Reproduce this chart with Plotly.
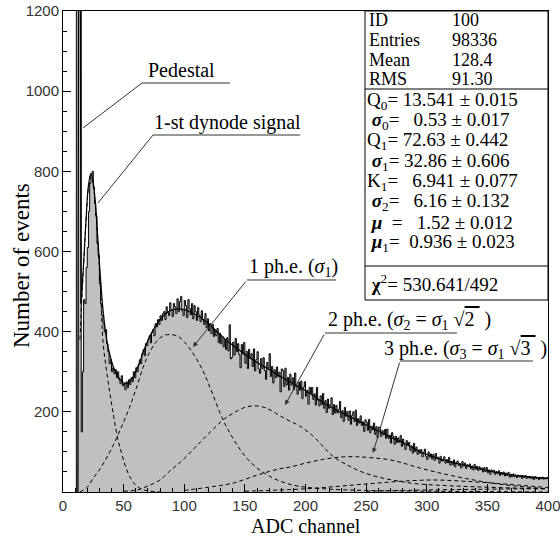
import numpy as np
import plotly.graph_objects as go

# ---------------- data ----------------
first_channel = 11
counts = [
    3000, 5000, 6000, 2500, 150, 300, 480, 470, 560, 610,
    700, 770, 790, 800, 760, 720, 690, 620, 590, 520,
    470, 440, 420, 400, 405, 370, 350, 320, 330, 300,
    310, 295, 305, 285, 300, 280, 270, 290, 265, 270,
    255, 275, 260, 280, 268, 285, 275, 300, 285, 310,
    300, 318, 330, 320, 345, 355, 340, 370, 365, 380,
    390, 372, 398, 405, 390, 420, 412, 430, 418, 440,
    428, 445, 450, 430, 462, 448, 440, 472, 455, 438,
    470, 462, 445, 482, 450, 475, 488, 452, 440, 478,
    465, 435, 480, 458, 442, 470, 432, 465, 450, 428,
    460, 442, 425, 452, 430, 418, 445, 410, 432, 402,
    420, 395, 418, 388, 404, 390, 408, 372, 396, 370,
    388, 362, 380, 356,
    385, 352, 417, 332, 336, 374, 342, 383, 350, 370,
    343, 310, 368, 344, 373, 321, 351, 308, 356, 333,
    345, 313, 357, 302, 330, 350, 307, 296, 333, 308,
    335, 303, 281, 323, 309, 345, 288, 313, 272, 305,
    285, 312, 288, 299, 250, 307, 303, 263, 309, 267,
    286, 254, 294, 267, 285, 255, 297, 263, 244, 274,
    254, 277, 233, 262, 275, 239, 254, 219, 261, 246,
    261, 231, 245, 217, 261, 229, 215, 240, 218, 246,
    209, 228, 198, 232, 209, 218, 235, 193, 218, 197,
    216, 197, 206, 226, 185, 203, 176, 211, 189, 201,
    179, 202, 169, 191, 200, 176, 204, 166, 183, 172,
    190, 166, 175, 151, 180, 174, 154, 181, 148, 164,
    155, 172, 144, 163, 136, 162, 160, 139, 153, 143,
    156, 134, 157, 134, 142, 122, 148, 139, 119, 139,
    123, 135, 124, 141, 114, 132, 118, 106, 128, 117,
    124, 104, 115, 97, 121, 101, 112, 94, 105, 97,
    106, 88, 99, 107, 89, 81, 100, 87, 95, 82,
    94, 79, 96, 83, 87, 72, 89, 77, 81, 88,
    72, 81, 73, 86, 67, 76, 68, 80, 63, 74,
    77, 66, 71, 60, 76, 65, 72, 59, 68, 64,
    70, 58, 65, 55, 69, 57, 64, 54, 63, 56,
    60, 50, 61, 51, 61, 48, 55, 44, 55, 50,
    54, 44, 51, 46, 53, 41, 49, 44, 50, 40,
    47, 41, 49, 37, 44, 38, 45, 38, 42, 36,
    42, 38, 41, 34, 41, 36, 41, 34, 38, 35,
    39, 33, 37, 31, 38, 34, 36, 31, 36, 33,
    37, 32, 35, 33, 36,
]

pedestal_fit_ch = [12.3, 13.54, 14.8]
pedestal_fit_counts = [0, 3000, 470]

fit_ch = [15, 17, 19, 21, 23, 25, 27, 29, 31, 33, 36, 39, 42, 45, 48, 51, 54, 57, 60,
          63, 66, 70, 75, 80, 85, 90, 95, 100, 105, 110, 115, 120, 125, 130, 135, 140,
          145, 150, 157, 165, 171, 180, 187, 195, 205, 215, 225, 235, 242, 250, 260,
          270, 280, 286, 294, 305, 313, 325, 341, 355, 369, 380, 396, 400]
fit_counts = [470, 570, 680, 765, 795, 770, 710, 620, 530, 455, 380, 338, 308, 290, 278,
              271, 272, 283, 300, 322, 348, 378, 408, 430, 446, 454, 457, 455, 449, 441,
              432, 420, 406, 392, 378, 366, 355, 343, 329, 314, 304, 287, 275, 262, 243,
              222, 205, 190, 180, 167, 152, 137, 124, 114, 101, 88, 80, 71, 60, 50, 43,
              39, 35, 34]

dynode_ch = [14, 15, 17, 19, 21, 23, 25, 27, 29, 31, 33, 36, 39, 42, 45, 48, 52, 56, 60, 65, 70, 80]
dynode_counts = [380, 450, 565, 675, 760, 790, 765, 700, 610, 500, 375, 300, 240, 185, 135,
                 100, 60, 33, 17, 7, 3, 0]

phe1_ch = [14, 20, 25, 30, 35, 40, 45, 50, 55, 60, 66, 70, 77, 83, 88, 95, 100, 107, 115,
           122, 132, 140, 150, 160, 170, 180, 190, 200, 220, 250, 300, 350, 400]
phe1_counts = [0, 12, 35, 55, 80, 108, 140, 175, 212, 255, 310, 340, 375, 390, 393, 388,
               375, 347, 305, 255, 180, 135, 90, 60, 40, 26, 17, 12, 7, 4, 2, 1, 0]

phe2_ch = [50, 61, 70, 80, 88, 97, 107, 115, 124, 132, 140, 149, 157, 165, 172, 179, 187,
           195, 206, 215, 223, 234, 245, 259, 275, 290, 316, 340, 371, 400]
phe2_counts = [2, 5, 15, 30, 52, 75, 105, 130, 157, 180, 196, 210, 215, 212, 203, 190, 177,
               165, 140, 112, 88, 68, 52, 38, 28, 21, 16, 13, 10, 8]

phe3_ch = [100, 120, 140, 162, 179, 187, 200, 214, 228, 242, 256, 270, 283, 294, 310, 330,
           350, 370, 400]
phe3_counts = [4, 12, 22, 44, 58, 62, 72, 81, 87, 88, 85, 80, 70, 60, 48, 35, 24, 16, 8]

phe4_ch = [150, 200, 250, 280, 305, 330, 360, 400]
phe4_counts = [2, 8, 20, 27, 30, 27, 21, 11]

phe5_ch = [250, 300, 350, 380, 400]
phe5_counts = [2, 5, 7, 8, 8]

stat_names = ["ID", "Entries", "Mean", "RMS"]
stat_values = ["100", "98336", "128.4", "91.30"]

x_ticks = [0, 50, 100, 150, 200, 250, 300, 350, 400]
y_ticks = [200, 400, 600, 800, 1000, 1200]

# ---------------- figure ----------------
counts = np.array(counts, dtype=float)
edges = first_channel + np.arange(len(counts) + 1)
hx = np.concatenate([[edges[0]], edges])
hy = np.concatenate([[0.0], counts, [counts[-1]]])

SERIF = "Liberation Serif"
fig = go.Figure()
fig.add_trace(go.Scatter(x=hx, y=hy, mode="lines", line_shape="hv",
                         line=dict(color="black", width=1), fill="tozeroy",
                         fillcolor="#c0c0c0", hoverinfo="skip"))

dash = "4px,3px"
for cxs, cys in [(dynode_ch, dynode_counts), (phe1_ch, phe1_counts), (phe2_ch, phe2_counts),
                 (phe3_ch, phe3_counts), (phe4_ch, phe4_counts), (phe5_ch, phe5_counts)]:
    fig.add_trace(go.Scatter(x=cxs, y=cys, mode="lines", line_shape="spline",
                             line=dict(color="black", width=1, dash=dash)))

fig.add_trace(go.Scatter(x=pedestal_fit_ch, y=pedestal_fit_counts, mode="lines",
                         line=dict(color="black", width=1.3)))
fig.add_trace(go.Scatter(x=fit_ch, y=fit_counts, mode="lines", line_shape="spline",
                         line=dict(color="black", width=1.2)))

def cx(px):
    return (px - 63) / 1.2125

def cy(py):
    return (492 - py) / 0.40083

shapes = []
annots = []
LC = "#333333"
NB = "\u00a0"

def seg(x0, y0, x1, y1, color=LC, w=1):
    shapes.append(dict(type="line", xref="x", yref="y", x0=cx(x0), y0=cy(y0),
                       x1=cx(x1), y1=cy(y1), line=dict(color=color, width=w)))

def arrow(tx, ty, sx, sy):
    annots.append(dict(x=cx(tx), y=cy(ty), ax=cx(sx), ay=cy(sy), xref="x", yref="y",
                       axref="x", ayref="y", text="", showarrow=True, arrowhead=2,
                       arrowsize=1, arrowwidth=1, arrowcolor=LC))

def label(px, py, text, size=20, anchor="left"):
    annots.append(dict(x=cx(px), y=cy(py), xref="x", yref="y", text=text, showarrow=False,
                       xanchor=anchor, yanchor="middle",
                       font=dict(family=SERIF, size=size, color="black")))

def over(t):
    return "<span style='text-decoration:overline'>" + t + NB + "</span>"

# Pedestal
seg(83, 128, 142, 83)
seg(142, 83, 230, 83)
label(146, 70, "Pedestal")
# dynode
seg(98, 203, 153, 135)
seg(153, 135, 300, 135)
label(152, 122, "1-st dynode signal")
# 1 phe
arrow(193, 347, 247, 280)
seg(247, 280, 336, 280)
label(247, 267, "1 ph.e. (<i>σ</i><sub>1</sub>)")
# 2 phe
arrow(285, 405, 325, 333)
seg(325, 333, 457, 333)
label(326, 320, "2 ph.e. (<i>σ</i><sub>2</sub>" + NB + "=" + NB + "<i>σ</i><sub>1</sub>" + NB
      + "√" + over("2") + NB + ")")
# 3 phe
arrow(373, 453, 400, 361)
seg(400, 361, 533, 361)
label(382, 349, "3 ph.e. (<i>σ</i><sub>3</sub>" + NB + "=" + NB + "<i>σ</i><sub>1</sub>" + NB
      + "√" + over("3") + NB + ")")

# stats box
shapes.append(dict(type="rect", xref="x", yref="y", x0=cx(365), x1=400, y0=cy(300), y1=1200,
                   line=dict(color="black", width=1), fillcolor="white", layer="above"))
seg(365, 89, 548, 89, "black")
seg(365, 266, 548, 266, "black")

row_y = [20, 40, 60, 79]
for n, v, ry in zip(stat_names, stat_values, row_y):
    label(367, ry, n, size=18)
    label(450, ry, v, size=18)

param_rows = [
    (101, "Q<sub>0</sub>= 13.541 ± 0.015"),
    (121, NB + "<b><i>σ</i></b><sub>0</sub>=" + NB * 3 + "0.53 ± 0.017"),
    (141, "Q<sub>1</sub>= 72.63 ± 0.442"),
    (162, NB + "<b><i>σ</i></b><sub>1</sub>= 32.86 ± 0.606"),
    (182, "K<sub>1</sub>=" + NB * 3 + "6.941 ± 0.077"),
    (202, NB + "<b><i>σ</i></b><sub>2</sub>=" + NB * 3 + "6.16 ± 0.132"),
    (222, NB + "<b><i>μ</i></b>" + NB + " =" + NB * 3 + "1.52 ± 0.012"),
    (243, NB + "<b><i>μ</i></b><sub>1</sub>=" + NB * 2 + "0.936 ± 0.023"),
    (283, NB + "<b>χ</b><sup>2</sup>= 530.641/492"),
]
for ry, t in param_rows:
    label(365, ry, t, size=19)

# axis titles
annots.append(dict(x=0.5, y=0.0, xref="paper", yref="paper", text="ADC channel",
                   showarrow=False, xanchor="center", yanchor="top", yshift=-21,
                   font=dict(family=SERIF, size=20, color="black")))
annots.append(dict(x=0, y=cy(266) / 1200, xref="paper", yref="paper", text="Number of events",
                   showarrow=False, xanchor="center", yanchor="middle", xshift=-41,
                   textangle=-90, font=dict(family=SERIF, size=23, color="black")))

tickfont = dict(family="Liberation Sans", size=15, color="#333333")
fig.update_layout(
    width=560, height=536,
    margin=dict(l=63, r=12, t=11, b=44, autoexpand=False),
    paper_bgcolor="white", plot_bgcolor="white",
    showlegend=False,
    shapes=shapes, annotations=annots,
    xaxis=dict(range=[0, 400], tickvals=x_ticks, ticks="inside", ticklen=8,
               tickcolor="black", showline=True, linecolor="black", linewidth=1,
               mirror=True, showgrid=False, zeroline=False, tickfont=tickfont,
               automargin=False, ticklabeloverflow="allow",
               minor=dict(ticks="inside", dtick=10, ticklen=4, tickcolor="black")),
    yaxis=dict(range=[0, 1200], tickvals=y_ticks, ticks="inside", ticklen=8,
               tickcolor="black", showline=True, linecolor="black", linewidth=1,
               mirror=True, showgrid=False, zeroline=False, tickfont=tickfont,
               automargin=False, ticklabeloverflow="allow",
               minor=dict(ticks="inside", dtick=50, ticklen=4, tickcolor="black")),
)
fig.write_html("out.html", config={"displayModeBar": False},
               post_script="document.body.style.margin='0';document.body.style.overflow='hidden';")
